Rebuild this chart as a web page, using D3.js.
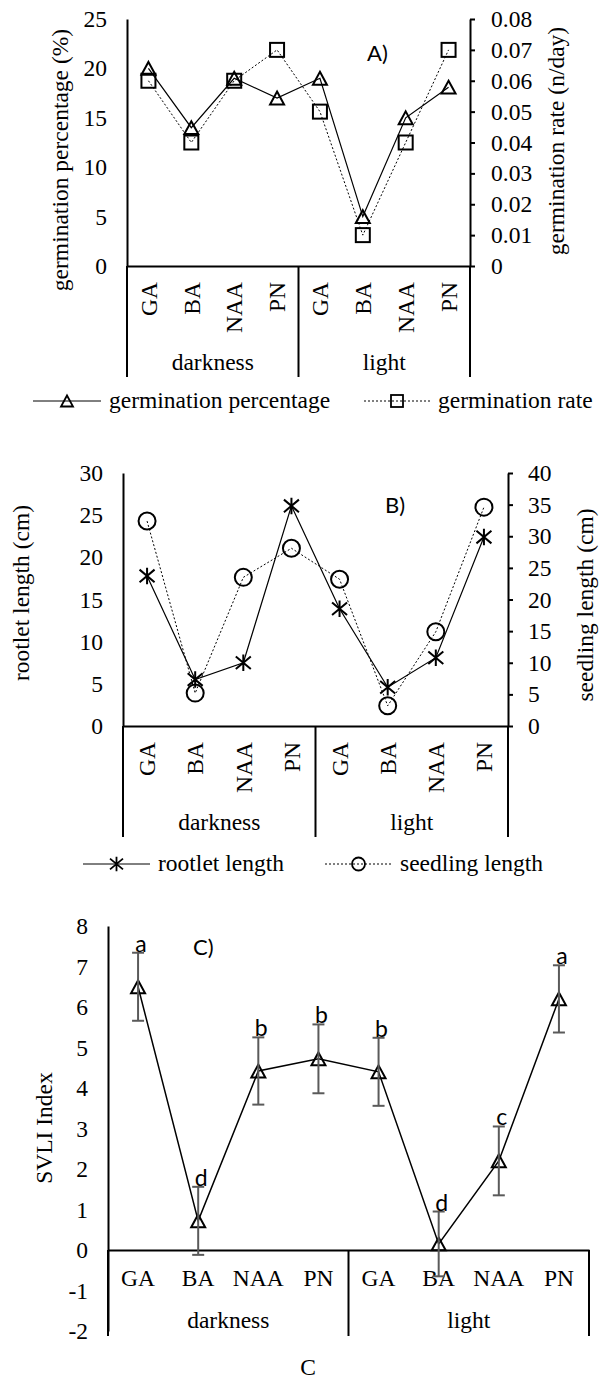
<!DOCTYPE html>
<html>
<head>
<meta charset="utf-8">
<script src="https://cdn.jsdelivr.net/npm/d3@7"></script>
<style>
  body { margin: 0; background: #fff; }
  svg text { font-family: "Liberation Serif", "Times New Roman", serif; font-size: 23.5px; fill: #000; }
  svg text.sans { font-family: Lato, "Open Sans", sans-serif; font-size: 22px; }
</style>
</head>
<body>
<svg id="chart" width="602" height="1382"></svg>
<script>
// --- Data ---
const conditions = ["darkness", "light"];
const treatments = ["GA", "BA", "NAA", "PN"];
const categories = conditions.flatMap(c => treatments.map(t => c + "|" + t));

// panel A
const germPercent = [20, 14, 19, 17, 19, 5, 15, 18.1];
const germRate = [0.06, 0.04, 0.06, 0.07, 0.05, 0.01, 0.04, 0.07];
const germPercentTicks = [0, 5, 10, 15, 20, 25];
const germRateTicks = [0, 0.01, 0.02, 0.03, 0.04, 0.05, 0.06, 0.07, 0.08];

// panel B
const rootletLength = [17.8, 5.5, 7.5, 26.1, 13.9, 4.6, 8.1, 22.4];
const seedlingLength = [32.4, 5.2, 23.5, 28.1, 23.2, 3.2, 14.9, 34.6];
const rootletTicks = [0, 5, 10, 15, 20, 25, 30];
const seedlingTicks = [0, 5, 10, 15, 20, 25, 30, 35, 40];

// panel C
const svli = [6.5, 0.72, 4.42, 4.72, 4.4, 0.15, 2.2, 6.2];
const svliErr = [0.84, 0.84, 0.83, 0.85, 0.84, 0.8, 0.85, 0.83];
const svliLetters = ["a", "d", "b", "b", "b", "d", "c", "a"];
const svliTicks = [-2, -1, 0, 1, 2, 3, 4, 5, 6, 7, 8];

const svg = d3.select("#chart");

// --- marker shapes ---
const triPath = (w, h) => `M0,${-h / 2}L${w / 2},${h / 2}L${-w / 2},${h / 2}Z`;
const starPath = (w, h) => `M${-w / 2},${-h * 0.38}L${w / 2},${h * 0.38}M${-w / 2},${h * 0.38}L${w / 2},${-h * 0.38}M0,${-h / 2}V${h / 2}`;

function drawMarker(g, type, x, y, size, sw) {
    if (type === "tri") {
        g.append("path").attr("d", triPath(size, size * 0.92)).attr("transform", `translate(${x},${y})`)
            .attr("fill", "none").attr("stroke", "#000").attr("stroke-width", sw);
    } else if (type === "sq") {
        g.append("rect").attr("x", x - size / 2).attr("y", y - size / 2).attr("width", size).attr("height", size)
            .attr("fill", "none").attr("stroke", "#000").attr("stroke-width", sw);
    } else if (type === "circle") {
        g.append("circle").attr("cx", x).attr("cy", y).attr("r", size / 2)
            .attr("fill", "none").attr("stroke", "#000").attr("stroke-width", sw);
    } else if (type === "star") {
        g.append("path").attr("d", starPath(size, size * 1.1)).attr("transform", `translate(${x},${y})`)
            .attr("fill", "none").attr("stroke", "#000").attr("stroke-width", sw);
    }
}

// category axis: zero line, labels, separator box and group names
function drawCategoryAxis(x, yZero, boxBottom, rotated, labelY, groupY) {
    const g = svg.append("g").attr("transform", `translate(0,${yZero})`)
        .call(d3.axisBottom(x).tickSize(0).tickSizeOuter(0).tickFormat(d => d.split("|")[1]));
    g.select(".domain").attr("stroke-width", 2);
    if (rotated) {
        g.selectAll(".tick text")
            .attr("transform", "rotate(-90)")
            .attr("x", -16).attr("y", 0).attr("dy", "0.35em")
            .attr("text-anchor", "end");
    } else {
        g.selectAll(".tick text").attr("y", labelY).attr("dy", 0);
    }
    const bounds = [x(categories[0]), x(categories[4]), x.range()[1]];
    bounds.forEach(bx => {
        svg.append("line").attr("x1", bx).attr("x2", bx).attr("y1", yZero).attr("y2", boxBottom)
            .attr("stroke", "#000").attr("stroke-width", 2);
    });
    conditions.forEach((c, i) => {
        svg.append("text")
            .attr("x", (bounds[i] + bounds[i + 1]) / 2)
            .attr("y", groupY)
            .attr("text-anchor", "middle")
            .text(c);
    });
}

function drawLeftAxis(y, xPos, ticks) {
    const g = svg.append("g").attr("transform", `translate(${xPos},0)`)
        .call(d3.axisLeft(y).tickValues(ticks).tickSize(0).tickSizeOuter(0).tickPadding(20).tickFormat(d => String(d)));
    g.select(".domain").attr("stroke-width", 2);
}

function drawRightAxis(y, xPos, ticks, fmt, pad) {
    const g = svg.append("g").attr("transform", `translate(${xPos},0)`)
        .call(d3.axisRight(y).tickValues(ticks).tickSize(5).tickSizeOuter(0).tickPadding(pad).tickFormat(fmt));
    g.select(".domain").attr("stroke-width", 2);
    g.selectAll(".tick line").attr("stroke-width", 2);
}

function rotLabel(x, y, txt) {
    svg.append("text")
        .attr("transform", `translate(${x},${y}) rotate(-90)`)
        .attr("text-anchor", "middle")
        .text(txt);
}

function drawSeries(x, y, values, dashed, marker, size) {
    const cx = (d, i) => x(categories[i]) + x.bandwidth() / 2;
    const line = d3.line().x((d, i) => cx(d, i)).y(d => y(d));
    svg.append("path")
        .datum(values)
        .attr("d", line)
        .attr("fill", "none")
        .attr("stroke", "#000")
        .attr("stroke-width", dashed ? 1 : 1.2)
        .attr("stroke-dasharray", dashed ? "2,2" : null);
    const g = svg.append("g");
    values.forEach((v, i) => drawMarker(g, marker, cx(v, i), y(v), size, 2));
}

function legendItem(x1, x2, y, dashed, marker, size, textX, label) {
    svg.append("line").attr("x1", x1).attr("x2", x2).attr("y1", y).attr("y2", y)
        .attr("stroke", "#000").attr("stroke-width", 1)
        .attr("stroke-dasharray", dashed ? "2,2" : null);
    drawMarker(svg, marker, (x1 + x2) / 2, y, size, 1.8);
    svg.append("text").attr("x", textX).attr("y", y + 7).text(label);
}

// ================= Panel A =================
const xA = d3.scaleBand().domain(categories).range([127, 470]);
const yA = d3.scaleLinear().domain([0, 25]).range([266, 19]);
const yA2 = d3.scaleLinear().domain([0, 0.08]).range([266, 19]);

drawCategoryAxis(xA, 266, 377, true, 0, 370);
drawLeftAxis(yA, 127, germPercentTicks);
drawRightAxis(yA2, 470, germRateTicks, d => d === 0 ? "0" : d.toFixed(2), 16);
rotLabel(68, 160, "germination percentage (%)");
rotLabel(564, 141, "germination rate (n/day)");
drawSeries(xA, yA2, germRate, true, "sq", 14);
drawSeries(xA, yA, germPercent, false, "tri", 14);
svg.append("text").attr("class", "sans").attr("x", 367).attr("y", 61).text("A)");

legendItem(33, 101, 401, false, "tri", 12, 109, "germination percentage");
legendItem(364, 430, 401, true, "sq", 12, 438, "germination rate");

// ================= Panel B =================
const xB = d3.scaleBand().domain(categories).range([123, 508]);
const yB = d3.scaleLinear().domain([0, 30]).range([726, 473]);
const yB2 = d3.scaleLinear().domain([0, 40]).range([726, 473]);

drawCategoryAxis(xB, 726, 837, true, 0, 830);
drawLeftAxis(yB, 123, rootletTicks);
drawRightAxis(yB2, 508, seedlingTicks, d => String(d), 15);
rotLabel(29, 593, "rootlet length (cm)");
rotLabel(593, 605, "seedling length (cm)");
drawSeries(xB, yB2, seedlingLength, true, "circle", 17);
drawSeries(xB, yB, rootletLength, false, "star", 15);
svg.append("text").attr("class", "sans").attr("x", 385).attr("y", 513).text("B)");

legendItem(83, 150, 864, false, "star", 13, 158, "rootlet length");
legendItem(325, 392, 864, true, "circle", 13, 400, "seedling length");

// ================= Panel C =================
const xC = d3.scaleBand().domain(categories).range([108, 589]);
const yC = d3.scaleLinear().domain([-2, 8]).range([1331, 926]);

drawLeftAxis(yC, 108, svliTicks);
drawCategoryAxis(xC, yC(0), 1336, false, 36, 1328);
rotLabel(52, 1128, "SVLI Index");

const cxC = i => xC(categories[i]) + xC.bandwidth() / 2;
svg.append("path")
    .datum(svli)
    .attr("d", d3.line().x((d, i) => cxC(i)).y(d => yC(d)))
    .attr("fill", "none").attr("stroke", "#000").attr("stroke-width", 1.5);

const gC = svg.append("g");
svli.forEach((v, i) => drawMarker(gC, "tri", cxC(i), yC(v), 14, 2));

// error bars
svli.forEach((v, i) => {
    const x = cxC(i), top = yC(v + svliErr[i]), bot = yC(v - svliErr[i]);
    const eb = svg.append("g").attr("stroke", "#5a5a5a").attr("stroke-width", 2);
    eb.append("line").attr("x1", x).attr("x2", x).attr("y1", top).attr("y2", bot);
    eb.append("line").attr("x1", x - 6).attr("x2", x + 6).attr("y1", top).attr("y2", top);
    eb.append("line").attr("x1", x - 6).attr("x2", x + 6).attr("y1", bot).attr("y2", bot);
    svg.append("text").attr("class", "sans")
        .attr("x", x + 3).attr("y", top - 1)
        .attr("text-anchor", "middle")
        .style("font-size", "23px")
        .text(svliLetters[i]);
});

svg.append("text").attr("class", "sans").attr("x", 193).attr("y", 955).text("C)");
svg.append("text").attr("x", 308).attr("y", 1375).attr("text-anchor", "middle").text("C");
</script>
</body>
</html>
